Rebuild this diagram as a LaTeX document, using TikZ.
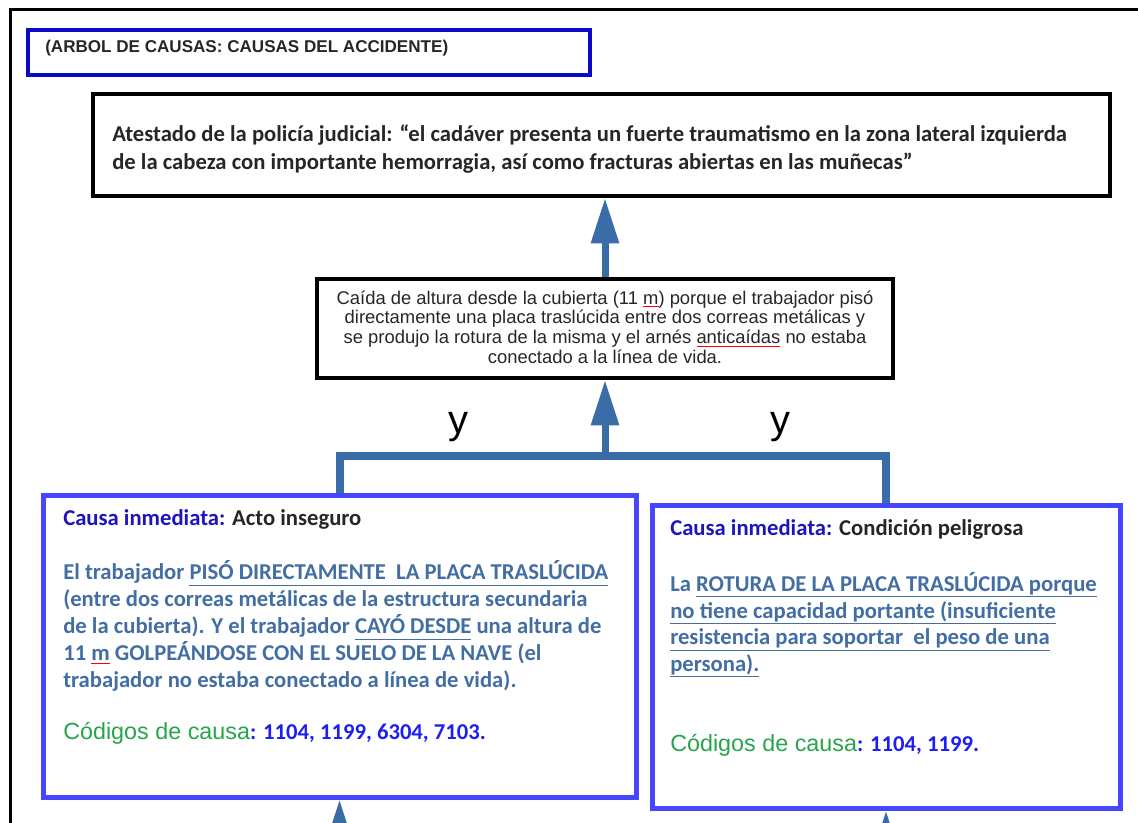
\documentclass[tikz,border=0pt]{standalone}
\usepackage{fontspec}
\setmainfont{Carlito}
\newfontfamily\arial{Liberation Sans}
\usetikzlibrary{arrows.meta}

\definecolor{acero}{RGB}{58,108,168}
\definecolor{textoacero}{RGB}{66,110,164}
\definecolor{azulcaja}{RGB}{70,70,255}
\definecolor{azultitulo}{RGB}{10,10,200}
\definecolor{azulcausa}{RGB}{30,20,190}
\definecolor{azulcod}{RGB}{30,30,240}
\definecolor{verde}{RGB}{40,165,75}

\newcommand{\subr}[1]{\underline{\smash{#1}\vphantom{(}}}
\newsavebox{\cajarojo}
\newcommand{\rojo}[1]{\sbox{\cajarojo}{#1}\rlap{\textcolor{red}{\rule[-2.5pt]{\wd\cajarojo}{0.8pt}}}\usebox{\cajarojo}}

\begin{document}
\begin{tikzpicture}[x=0.75pt, y=-0.75pt,
	caja/.style={draw, line width=3pt, inner sep=0pt},
	cajaazul/.style={draw=azulcaja, line width=3.75pt, inner sep=0pt},
	flecha/.style={draw=acero, line width=5.25pt, -{Triangle[length=34pt, width=20pt]}},
	conector/.style={draw=acero, line width=6pt},
	parrafo/.style={anchor=west, align=left, inner sep=0pt}]
	
	\useasboundingbox (0,0) rectangle (1138,823);
	\clip (0,0) rectangle (1138,823);
	
	%Marco
	\draw[line width=2.25pt] (10,823) -- (10,10) -- (1138,10);
	
	%Cajas
	\node[caja, draw=azultitulo, line width=3.5pt, minimum width={562*0.75pt}, minimum height={45*0.75pt}] (titulo) at (309,52.5) {};
	\node[caja, minimum width={1017*0.75pt}, minimum height={102*0.75pt}] (atestado) at (601.5,145) {};
	\node[caja, minimum width={576*0.75pt}, minimum height={99*0.75pt}] (caida) at (605,328.5) {};
	\node[cajaazul, minimum width={593*0.75pt}, minimum height={302*0.75pt}] (izq) at (339.5,646) {};
	\node[cajaazul, minimum width={468*0.75pt}, minimum height={303*0.75pt}] (der) at (886,656.5) {};
	
	%Textos
	\node[parrafo, font=\arial\bfseries\fontsize{12.8}{14}\selectfont, text=black!85] (titulotxt) at (45,48)
		{(ARBOL DE CAUSAS: CAUSAS DEL ACCIDENTE)};
	\node[parrafo, font=\bfseries\fontsize{17}{21}\selectfont, text=black!85] (atestadotxt) at (112,149)
		{Atestado de la policía judicial: “el cadáver presenta un fuerte traumatismo en la zona lateral izquierda\\
		de la cabeza con importante hemorragia, así como fracturas abiertas en las muñecas”};
	\node[align=center, inner sep=0pt, font=\arial\fontsize{13.8}{14.8}\selectfont, text=black!85] (caidatxt) at (605,327)
		{Caída de altura desde la cubierta (11 \rojo{m}) porque el trabajador pisó\\
		directamente una placa traslúcida entre dos correas metálicas y\\
		se produjo la rotura de la misma y el arnés \rojo{anticaídas} no estaba\\
		conectado a la línea de vida.};
	
	\node[parrafo, font=\bfseries\fontsize{17}{20}\selectfont, text=black!85] (izqtit) at (63,519)
		{\textcolor{azulcausa}{Causa inmediata:} Acto inseguro};
	\node[parrafo, font=\bfseries\fontsize{17}{20.25}\selectfont, text=textoacero] (izqtxt) at (63,627)
		{El trabajador \subr{PISÓ DIRECTAMENTE\ \ LA PLACA TRASLÚCIDA}\\
		(entre dos correas metálicas de la estructura secundaria\\
		de la cubierta). Y el trabajador \subr{CAYÓ DESDE} una altura de\\
		11 \rojo{m} GOLPEÁNDOSE CON EL SUELO DE LA NAVE (el\\
		trabajador no estaba conectado a línea de vida).};
	\node[parrafo, font=\bfseries\fontsize{17}{20}\selectfont, text=azulcod] (izqcod) at (63,733)
		{{\arial\mdseries\fontsize{17.5}{20}\selectfont\color{verde}Códigos de causa}: 1104, 1199, 6304, 7103.};
	
	\node[parrafo, font=\bfseries\fontsize{17}{20}\selectfont, text=black!85] (dertit) at (670,529)
		{\textcolor{azulcausa}{Causa inmediata:} Condición peligrosa};
	\node[parrafo, font=\bfseries\fontsize{17}{20}\selectfont, text=textoacero] (dertxt) at (670,626)
		{La \subr{ROTURA DE LA PLACA TRASLÚCIDA porque}\\
		\subr{no tiene capacidad portante (insuficiente}\\
		\subr{resistencia para soportar\ \ el peso de una}\\
		\subr{persona).}};
	\node[parrafo, font=\bfseries\fontsize{17}{20}\selectfont, text=azulcod] (dercod) at (670,745)
		{{\arial\mdseries\fontsize{17.5}{20}\selectfont\color{verde}Códigos de causa}: 1104, 1199.};
	
	%Flechas
	\coordinate (union) at (605,456);
	\coordinate (izqabajo) at (339.5,890);
	\coordinate (derabajo) at (886,890);
	\draw[conector] (izq.north) |- (union) -| (der.north);
	\draw[flecha] (union) -- (caida.south);
	\draw[flecha] (caida.north) -- (atestado.south -| caida.north);
	\draw[flecha] (izqabajo) -- (izq.south);
	\draw[flecha] (derabajo) -- (der.south);
	
	\node[font=\arial\fontsize{30}{36}\selectfont] (y1) at (458,427) {y};
	\node[font=\arial\fontsize{30}{36}\selectfont] (y2) at (780,427) {y};
	
\end{tikzpicture}
\end{document}
